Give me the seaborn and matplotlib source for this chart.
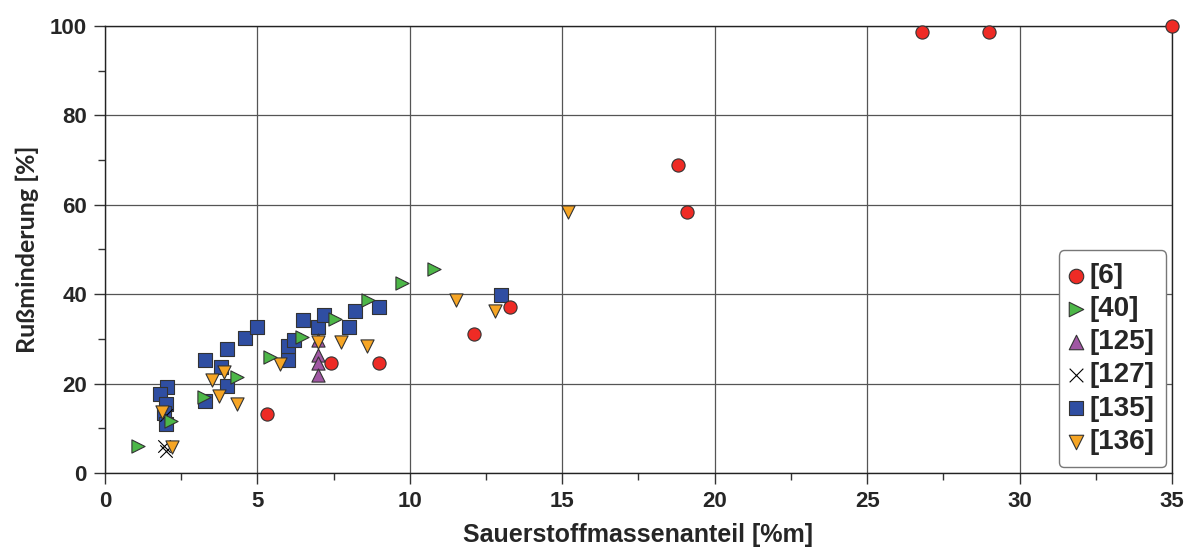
import matplotlib
matplotlib.use('Agg')
import matplotlib.pyplot as plt
import seaborn as sns
import pandas as pd

# Werte
quellen = ["[6]", "[40]", "[125]", "[127]", "[135]", "[136]"]

x_6 = [5.3, 7.4, 9.0, 12.1, 13.3, 18.8, 19.1, 26.8, 29.0, 35.0]
y_6 = [13.2, 24.5, 24.5, 31.1, 37.2, 68.9, 58.4, 98.7, 98.7, 100.0]

x_40 = [1.07, 2.16, 3.25, 4.32, 5.41, 6.47, 7.55, 8.64, 9.73, 10.8]
y_40 = [6.0, 11.7, 17.1, 21.5, 26.0, 30.5, 34.4, 38.7, 42.4, 45.6]

x_125 = [7.0, 7.0, 7.0, 7.0]
y_125 = [29.8, 26.4, 24.5, 21.9]

x_127 = [2.0, 1.95, 2.0]
y_127 = [13.0, 6.0, 5.0]

x_135 = [2.05, 1.8, 2.0, 1.95, 2.0, 3.29, 3.29, 3.99, 3.8, 3.99, 4.59, 5.0,
         6.01, 6.01, 6.21, 6.5, 7.0, 7.19, 8.0, 8.2, 9.0, 13.0]
y_135 = [19.2, 17.6, 15.5, 13.5, 11.0, 16.0, 25.3, 19.5, 23.8, 27.7, 30.2, 32.7,
         25.3, 28.3, 29.8, 34.2, 32.7, 35.3, 32.7, 36.2, 37.2, 39.8]

x_136 = [2.19, 1.86, 3.5, 3.91, 3.75, 4.32, 5.74, 7.0, 7.74, 8.58, 11.5, 12.8, 15.2]
y_136 = [5.9, 13.7, 20.8, 22.7, 17.3, 15.4, 24.3, 29.3, 29.3, 28.3, 38.7, 36.2, 58.4]

daten = {
    "[6]": (x_6, y_6),
    "[40]": (x_40, y_40),
    "[125]": (x_125, y_125),
    "[127]": (x_127, y_127),
    "[135]": (x_135, y_135),
    "[136]": (x_136, y_136),
}

farben = {"[6]": "#EE2B25", "[40]": "#4DB748", "[125]": "#A057A3",
          "[127]": "black", "[135]": "#2F4EA2", "[136]": "#F6A524"}
marker = {"[6]": "o", "[40]": ">", "[125]": "^", "[127]": "x",
          "[135]": "s", "[136]": "v"}
# Zeichenreihenfolge (was liegt oben)
ebene = {"[135]": 2, "[125]": 3, "[127]": 4, "[6]": 5, "[136]": 6, "[40]": 7}

sns.set_style("ticks")
plt.rcParams['font.family'] = ['Liberation Sans', 'DejaVu Sans']
plt.rcParams['font.weight'] = 'bold'

fig = plt.figure(figsize=(11.93, 5.47), dpi=100)
ax = fig.add_axes([0.088, 0.1353, 0.8944, 0.8172])

for q in quellen:
    xs, ys = daten[q]
    df = pd.DataFrame({"x": xs, "y": ys})
    if marker[q] == "x":
        sns.scatterplot(data=df, x="x", y="y", marker="x", color="black",
                        s=80, linewidth=0.8, ax=ax, zorder=ebene[q], label=q,
                        clip_on=False)
    else:
        sns.scatterplot(data=df, x="x", y="y", marker=marker[q], color=farben[q],
                        s=90, edgecolor="#333333", linewidth=0.8, ax=ax,
                        zorder=ebene[q], label=q, clip_on=False)

ax.set_xlim(0, 35)
ax.set_ylim(0, 100)
ax.set_xticks(range(0, 36, 5))
ax.set_yticks(range(0, 101, 20))
ax.set_xticks([2.5 + 5 * i for i in range(7)], minor=True)
ax.set_yticks([10, 30, 50, 70, 90], minor=True)
ax.grid(True, which="major", color="#555555", linewidth=0.9)
ax.set_axisbelow(True)
ax.tick_params(which="major", direction="out", length=8, width=1, color="#333333",
               labelsize=16, pad=5)
ax.tick_params(which="minor", direction="out", length=5, width=1, color="#333333")
for lab in ax.get_xticklabels() + ax.get_yticklabels():
    lab.set_fontweight("bold")
for sp in ax.spines.values():
    sp.set_color("#222222")
    sp.set_linewidth(1.0)

ax.set_xlabel("Sauerstoffmassenanteil [%m]", fontsize=18, fontweight="bold", labelpad=8)
ax.set_ylabel("Rußminderung [%]", fontsize=18, fontweight="bold", labelpad=8,
              family=["Lato", "DejaVu Sans"])

h, l = ax.get_legend_handles_labels()
ordnung = [h[l.index(q)] for q in quellen]
leg = ax.legend(ordnung, quellen, loc="lower right", fontsize=20,
                labelspacing=0.26, handletextpad=0.3, handlelength=0.35,
                borderaxespad=0.2, borderpad=0.45, frameon=True, fancybox=True,
                edgecolor="#777777", framealpha=1, markerscale=1.1)
for t in leg.get_texts():
    t.set_fontweight("bold")
leg.get_frame().set_linewidth(1.0)

plt.savefig("out.png", dpi=100)
